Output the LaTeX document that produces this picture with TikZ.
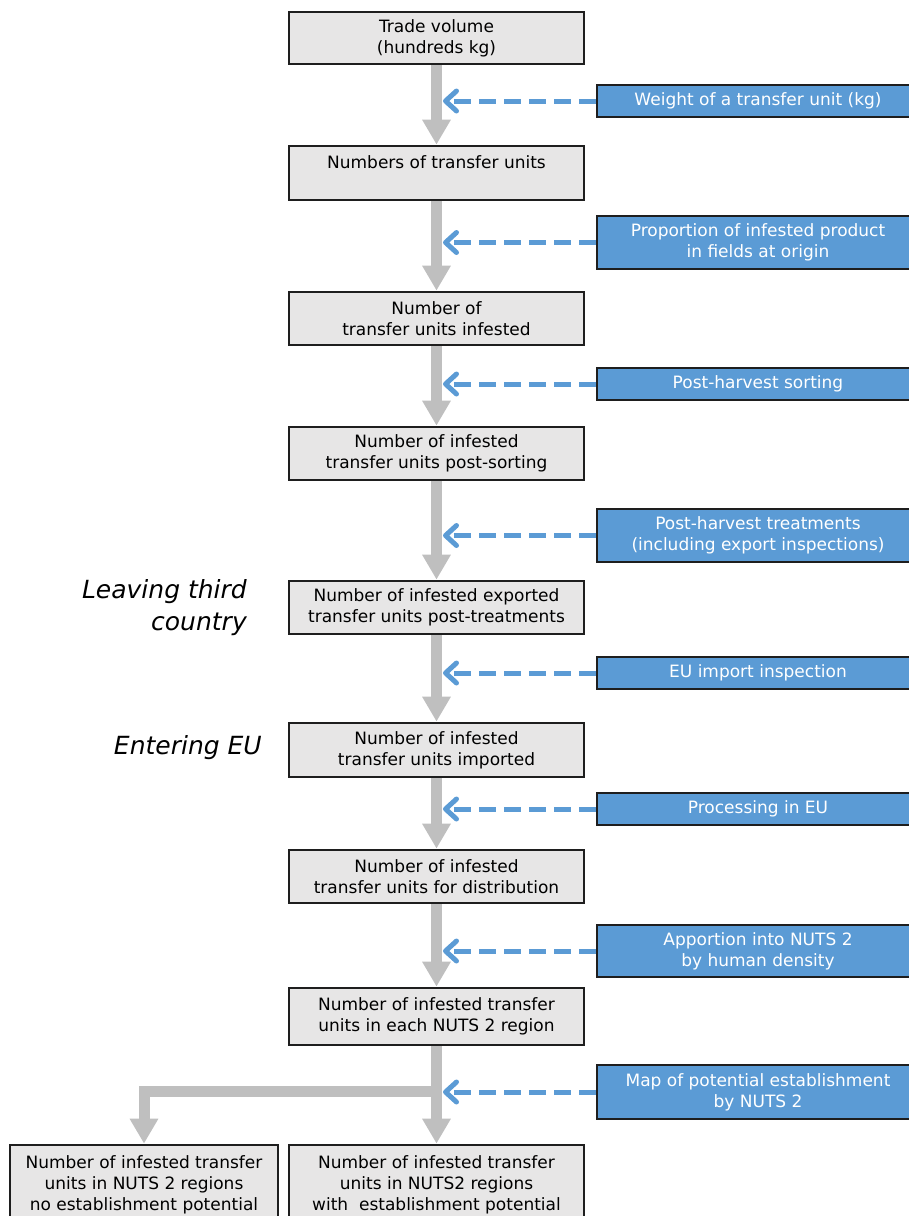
\documentclass[tikz,border=0pt]{standalone}
\usepackage{fontspec}
\setmainfont{DejaVu Sans}
\usetikzlibrary{arrows.meta}
\definecolor{boxfill}{HTML}{E7E6E6}
\definecolor{boxline}{HTML}{1E1E1E}
\definecolor{bluefill}{HTML}{5B9BD5}
\definecolor{arrowgray}{HTML}{BFBFBF}
\begin{document}
\begin{tikzpicture}[x=1pt,y=-1pt,
  mainbox/.style={draw=boxline, fill=boxfill, line width=1.3pt, minimum width=295pt,
    align=center, inner sep=0pt, font=\fontsize{17}{21}\selectfont, text=black},
  inbox/.style={draw=boxline, fill=bluefill, line width=1.3pt, minimum width=322pt,
    align=center, inner sep=0pt, font=\fontsize{17}{21}\selectfont, text=white},
  flow/.style={draw=arrowgray, line width=11pt, shorten <=0.7pt, shorten >=0.7pt,
    -{Triangle[length=25pt,width=27pt]}},
  effect/.style={draw=bluefill, line width=5pt, dash pattern=on 17pt off 8pt,
    shorten <=0.7pt, -{Straight Barb[length=11pt,width=20pt,line cap=round,line join=round]}},
  sidelabel/.style={font=\fontsize{25}{32}\selectfont\itshape, align=right,
    anchor=east, inner sep=0pt}]
\useasboundingbox (0,0) rectangle (909,1216);

% main chain
\node[mainbox, minimum height=52pt] (b1) at (436.5,38) {Trade volume\\(hundreds kg)};
\node[mainbox, minimum height=54pt] (b2) at (436.5,173) {Numbers of transfer units\\\mbox{}};
\node[mainbox, minimum height=53pt] (b3) at (436.5,318.5) {Number of\\transfer units infested};
\node[mainbox, minimum height=53pt] (b4) at (436.5,453.5) {Number of infested\\transfer units post-sorting};
\node[mainbox, minimum height=53pt] (b5) at (436.5,607.5) {Number of infested exported\\transfer units post-treatments};
\node[mainbox, minimum height=54pt] (b6) at (436.5,750) {Number of infested\\transfer units imported};
\node[mainbox, minimum height=53pt] (b7) at (436.5,876.5) {Number of infested\\transfer units for distribution};
\node[mainbox, minimum height=57pt] (b8) at (436.5,1016.5) {Number of infested transfer\\units in each NUTS 2 region};
\node[mainbox, minimum width=268pt, minimum height=80pt] (l) at (144,1185) {Number of infested transfer\\units in NUTS 2 regions\\no establishment potential};
\node[mainbox, minimum height=80pt] (r) at (436.5,1185) {Number of infested transfer\\units in NUTS2 regions\\with\ \ establishment potential};

% inputs
\node[inbox, minimum height=32pt] (k1) at (758,101) {Weight of a transfer unit (kg)};
\node[inbox, minimum height=53pt] (k2) at (758,242.5) {Proportion of infested product\\in fields at origin};
\node[inbox, minimum height=32pt] (k3) at (758,384) {Post-harvest sorting};
\node[inbox, minimum height=53pt] (k4) at (758,535.5) {Post-harvest treatments\\(including export inspections)};
\node[inbox, minimum height=32pt] (k5) at (758,673) {EU import inspection};
\node[inbox, minimum height=32pt] (k6) at (758,809) {Processing in EU};
\node[inbox, minimum height=52pt] (k7) at (758,951) {Apportion into NUTS 2\\by human density};
\node[inbox, minimum height=54pt] (k8) at (758,1092) {Map of potential establishment\\by NUTS 2};

% side labels
\node[sidelabel] (leave) at (247,608) {Leaving third\\country};
\node[sidelabel] (enter) at (262,748) {Entering EU};

% gray flow
\draw[flow] (b1.south) -- (b2.north);
\draw[flow] (b2.south) -- (b3.north);
\draw[flow] (b3.south) -- (b4.north);
\draw[flow] (b4.south) -- (b5.north);
\draw[flow] (b5.south) -- (b6.north);
\draw[flow] (b6.south) -- (b7.north);
\draw[flow] (b7.south) -- (b8.north);
\draw[flow] (b8.south) -- (r.north);
\path (b8.south) ++(0,46) coordinate (split);
\draw[flow, shorten <=0pt] (split) -| (l.north);

% blue effects
\coordinate (t1) at (443,101);
\coordinate (t2) at (443,242.5);
\coordinate (t3) at (443,384);
\coordinate (t4) at (443,535.5);
\coordinate (t5) at (443,673);
\coordinate (t6) at (443,809);
\coordinate (t7) at (443,951);
\coordinate (t8) at (443,1092);
\draw[effect] (k1.west) -- (t1);
\draw[effect] (k2.west) -- (t2);
\draw[effect] (k3.west) -- (t3);
\draw[effect] (k4.west) -- (t4);
\draw[effect] (k5.west) -- (t5);
\draw[effect] (k6.west) -- (t6);
\draw[effect] (k7.west) -- (t7);
\draw[effect] (k8.west) -- (t8);
\end{tikzpicture}
\end{document}
